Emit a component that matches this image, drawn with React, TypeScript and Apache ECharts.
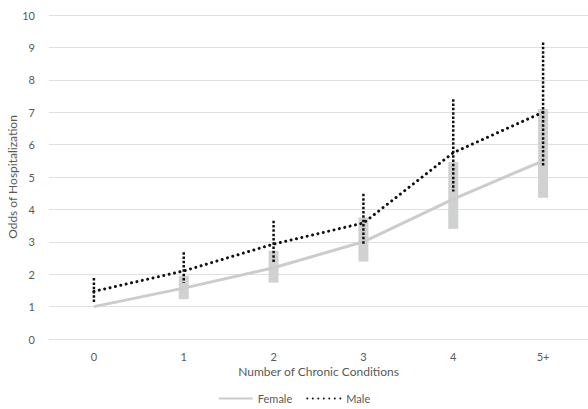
import React, { useEffect, useRef } from "react";
import * as echarts from "echarts";

const categories = ["0", "1", "2", "3", "4", "5+"];
const femaleOdds = [1.0, 1.57, 2.2, 3.0, 4.32, 5.5];
const femaleLow = [1.0, 1.23, 1.74, 2.39, 3.4, 4.36];
const femaleHigh = [1.0, 1.95, 2.72, 3.75, 5.46, 7.1];
const maleOdds = [1.47, 2.1, 2.93, 3.58, 5.75, 7.0];
const maleLow = [1.14, 1.73, 2.38, 2.9, 4.55, 5.32];
const maleHigh = [1.88, 2.68, 3.65, 4.48, 7.4, 9.15];

const FONT = "Lato, 'Open Sans', 'Liberation Sans', sans-serif";
const TEXT = "#595959";

export default function App() {
  const ref = useRef<HTMLDivElement>(null);
  useEffect(() => {
    const chart = echarts.init(ref.current!, null, { renderer: "svg" });
    const femaleCI = categories.map((_, i) => [i, femaleLow[i], femaleHigh[i]]);
    const maleCI = categories.map((_, i) => [i, maleLow[i], maleHigh[i]]);
    chart.setOption({
      animation: false,
      backgroundColor: "#ffffff",
      textStyle: { fontFamily: FONT },
      grid: { left: 49, right: 0, top: 15, bottom: 70, outerBoundsMode: "none", containLabel: false },
      legend: {
        top: 388,
        left: "center",
        padding: [5, 5, 2, 5],
        itemWidth: 34,
        itemHeight: 10,
        itemGap: 14,
        itemStyle: { opacity: 0 },
        textStyle: { color: TEXT, fontSize: 11, fontFamily: FONT },
        data: [{ name: "Female" }, { name: "Male" }],
      },
      xAxis: {
        type: "category",
        data: categories,
        name: "Number of Chronic Conditions",
        nameLocation: "middle",
        nameGap: 26,
        nameMoveOverlap: false,
        nameTextStyle: { color: TEXT, fontSize: 12, fontFamily: FONT },
        axisLine: { show: false },
        axisTick: { show: false },
        axisLabel: { color: TEXT, fontSize: 11, margin: 12 },
      },
      yAxis: {
        type: "value",
        min: 0,
        max: 10,
        interval: 1,
        name: "Odds of Hospitalization",
        nameLocation: "middle",
        nameGap: 31,
        nameMoveOverlap: false,
        nameTextStyle: { color: TEXT, fontSize: 12, fontFamily: FONT },
        axisLabel: { color: TEXT, fontSize: 11, margin: 14 },
        splitLine: { lineStyle: { color: "#e0e0e0", width: 1 } },
      },
      series: [
        {
          name: "FemaleCI",
          type: "custom",
          data: femaleCI,
          z: 1,
          renderItem: (params: any, api: any) => {
            const x = api.value(0);
            const lo = api.coord([x, api.value(1)]);
            const hi = api.coord([x, api.value(2)]);
            if (Math.abs(lo[1] - hi[1]) < 0.5) return null;
            return {
              type: "rect",
              shape: { x: lo[0] - 5, y: hi[1], width: 10, height: lo[1] - hi[1] },
              style: { fill: "#d0d1d1" },
            };
          },
        },
        {
          name: "Female",
          type: "line",
          data: femaleOdds,
          symbol: "none",
          z: 2,
          color: "#cccccc",
          lineStyle: { color: "#cccccc", width: 3 },
        },
        {
          name: "MaleCI",
          type: "custom",
          data: maleCI,
          z: 3,
          renderItem: (params: any, api: any) => {
            const x = api.value(0);
            const lo = api.coord([x, api.value(1)]);
            const hi = api.coord([x, api.value(2)]);
            return {
              type: "line",
              shape: { x1: lo[0], y1: hi[1], x2: lo[0], y2: lo[1] },
              style: { stroke: "#111111", lineWidth: 2.5, lineDash: [2.5, 1.8] },
            };
          },
        },
        {
          name: "Male",
          type: "line",
          data: maleOdds,
          symbol: "none",
          z: 4,
          color: "#111111",
          lineStyle: { color: "#111111", width: 3, type: [0.01, 5.5], cap: "round" },
        },
      ],
    });
    return () => chart.dispose();
  }, []);
  return <div ref={ref} style={{ width: 588, height: 409, position: "absolute", left: 0, top: 0 }} />;
}
